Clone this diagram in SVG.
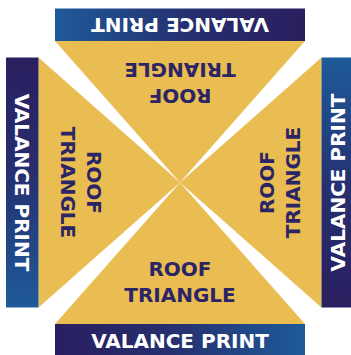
<svg xmlns="http://www.w3.org/2000/svg" width="351" height="355" viewBox="0 0 351 355">
<defs>
<linearGradient id="bannerGrad" x1="0" y1="0" x2="1" y2="0">
<stop offset="0" stop-color="#2A1F5F"/>
<stop offset="0.45" stop-color="#262E6E"/>
<stop offset="1" stop-color="#1E5A99"/>
</linearGradient>
<style>
.tri{fill:#E9BD52;}
.banner{fill:url(#bannerGrad);}
.btext{fill:#FFFFFF;font-family:"DejaVu Sans","Liberation Sans",sans-serif;font-weight:bold;font-size:20px;text-anchor:middle;}
.ttext{fill:#2C2565;font-family:"DejaVu Sans","Liberation Sans",sans-serif;font-weight:bold;font-size:20px;text-anchor:middle;}
</style>
</defs>
<rect width="351" height="355" fill="#FFFFFF"/>
<g id="triangle-bottom">
<polygon class="tri" points="55,324 305,324 180,182.5"/>
<text class="ttext" x="180" y="276">ROOF</text>
<text class="ttext" x="180" y="302">TRIANGLE</text>
</g>
<g id="triangle-left" transform="rotate(90 180 182.5)">
<polygon class="tri" points="55,324 305,324 180,182.5"/>
<text class="ttext" x="180" y="276">ROOF</text>
<text class="ttext" x="180" y="302">TRIANGLE</text>
</g>
<g id="triangle-top" transform="rotate(180 180 182.5)">
<polygon class="tri" points="55,324 305,324 180,182.5"/>
<text class="ttext" x="180" y="276">ROOF</text>
<text class="ttext" x="180" y="302">TRIANGLE</text>
</g>
<g id="triangle-right" transform="rotate(270 180 182.5)">
<polygon class="tri" points="55,324 305,324 180,182.5"/>
<text class="ttext" x="180" y="276">ROOF</text>
<text class="ttext" x="180" y="302">TRIANGLE</text>
</g>
<g id="banner-bottom">
<rect class="banner" x="55" y="324" width="250" height="32.5"/>
<text class="btext" x="180" y="347.5">VALANCE PRINT</text>
</g>
<g id="banner-left" transform="rotate(90 180 182.5)">
<rect class="banner" x="55" y="324" width="250" height="32.5"/>
<text class="btext" x="180" y="347.5">VALANCE PRINT</text>
</g>
<g id="banner-top" transform="rotate(180 180 182.5)">
<rect class="banner" x="55" y="324" width="250" height="32.5"/>
<text class="btext" x="180" y="347.5">VALANCE PRINT</text>
</g>
<g id="banner-right" transform="rotate(270 180 182.5)">
<rect class="banner" x="55" y="324" width="250" height="32.5"/>
<text class="btext" x="180" y="347.5">VALANCE PRINT</text>
</g>
</svg>
